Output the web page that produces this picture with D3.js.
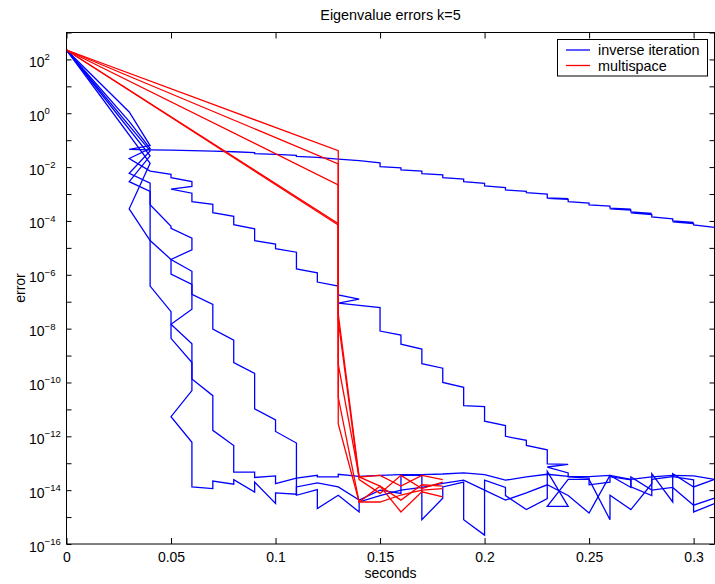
<!DOCTYPE html>
<html>
<head>
<meta charset="utf-8">
<script src="https://cdn.jsdelivr.net/npm/d3@7"></script>
<style>
  body { margin: 0; background: #fff; }
  text { font-family: "Liberation Sans", Arial, Helvetica, sans-serif; fill: #000; }
</style>
</head>
<body>
<svg id="chart" width="715" height="584"></svg>
<script>
// Each series: [seconds, log10(error)] pairs, in iteration order.
// Timer resolution is 0.01 s, so several iterations can share one time stamp.

// inverse iteration, one trace per eigenvalue
const invSlow = [[0,2.35],[0.03,0.05],[0.04,-1.2],[0.03,-1.34],[0.04,-1.36],[0.05,-1.37],[0.06,-1.39],[0.07,-1.41],[0.08,-1.43],[0.09,-1.46],[0.09,-1.50],[0.10,-1.53],[0.11,-1.56],[0.11,-1.60],[0.12,-1.64],[0.13,-1.70],[0.14,-1.76],[0.15,-1.84],[0.15,-1.98],[0.16,-2.03],[0.16,-2.10],[0.17,-2.15],[0.17,-2.24],[0.18,-2.29],[0.18,-2.39],[0.19,-2.45],[0.19,-2.54],[0.20,-2.60],[0.20,-2.70],[0.21,-2.76],[0.21,-2.85],[0.22,-2.90],[0.22,-2.95],[0.23,-3.00],[0.23,-3.14],[0.24,-3.17],[0.23,-3.16],[0.24,-3.20],[0.24,-3.28],[0.25,-3.34],[0.25,-3.40],[0.26,-3.45],[0.26,-3.52],[0.27,-3.56],[0.26,-3.55],[0.27,-3.60],[0.27,-3.66],[0.28,-3.72],[0.27,-3.70],[0.28,-3.76],[0.28,-3.85],[0.29,-3.92],[0.29,-4.00],[0.30,-4.05],[0.29,-4.03],[0.30,-4.10],[0.30,-4.15],[0.31,-4.24]];

const invMid = [[0,2.35],[0.03,-0.3],[0.04,-1.31],[0.03,-1.68],[0.04,-2.15],[0.05,-2.27],[0.05,-2.39],[0.06,-2.54],[0.06,-2.72],[0.05,-2.82],[0.06,-2.97],[0.06,-3.28],[0.07,-3.38],[0.07,-3.69],[0.08,-3.83],[0.08,-4.14],[0.09,-4.29],[0.09,-4.73],[0.10,-4.86],[0.10,-5.03],[0.11,-5.16],[0.11,-5.78],[0.12,-5.93],[0.12,-6.27],[0.13,-6.42],[0.13,-6.75],[0.14,-6.90],[0.13,-7.05],[0.15,-7.22],[0.15,-8.09],[0.16,-8.24],[0.16,-8.58],[0.17,-8.76],[0.17,-9.30],[0.18,-9.47],[0.18,-10.0],[0.19,-10.18],[0.19,-10.86],[0.20,-10.90],[0.20,-11.44],[0.21,-11.60],[0.21,-12.0],[0.22,-12.15],[0.22,-12.34],[0.23,-12.50],[0.23,-13.02],[0.24,-13.04],[0.23,-13.14],[0.24,-13.36],[0.24,-13.51],[0.25,-13.55],[0.25,-13.8],[0.26,-13.7],[0.26,-13.5],[0.27,-13.62],[0.27,-13.88],[0.28,-14.2],[0.28,-13.6],[0.29,-13.5],[0.30,-13.62],[0.30,-14.81],[0.31,-14.5]];

const invFast1 = [[0,2.35],[0.04,-1.40],[0.03,-2.23],[0.04,-2.6],[0.04,-3.40],[0.05,-4.20],[0.05,-4.27],[0.06,-4.64],[0.06,-5.07],[0.05,-5.43],[0.06,-5.87],[0.06,-7.28],[0.05,-7.84],[0.06,-8.56],[0.06,-10.30],[0.05,-11.27],[0.06,-12.22],[0.06,-13.88],[0.07,-13.94],[0.07,-13.66],[0.08,-13.78],[0.08,-13.61],[0.09,-14.07],[0.09,-13.70],[0.10,-14.49],[0.10,-14.10],[0.11,-14.15],[0.11,-13.88],[0.12,-13.73],[0.13,-13.88],[0.14,-14.37],[0.15,-14.0],[0.16,-14.12],[0.16,-13.45],[0.17,-13.45],[0.17,-15.1],[0.18,-14.3],[0.18,-13.88],[0.19,-13.7],[0.19,-15.1],[0.20,-15.67],[0.20,-13.63],[0.21,-13.9],[0.21,-14.2],[0.22,-14.72],[0.23,-14.31],[0.23,-13.3],[0.24,-14.6],[0.23,-14.6],[0.24,-13.6],[0.25,-13.6],[0.26,-15.1],[0.26,-14.19],[0.27,-14.72],[0.28,-13.76],[0.28,-13.39],[0.29,-14.44],[0.29,-13.39],[0.30,-13.88],[0.31,-13.6]];

const invFast2 = [[0,2.35],[0.04,-1.58],[0.03,-2.54],[0.04,-2.9],[0.04,-6.42],[0.05,-7.37],[0.05,-8.36],[0.06,-9.26],[0.06,-9.87],[0.07,-10.49],[0.07,-11.78],[0.08,-12.34],[0.08,-13.33],[0.09,-13.33],[0.09,-13.53],[0.10,-13.47],[0.10,-13.76],[0.11,-13.55],[0.12,-13.45],[0.12,-13.51],[0.13,-13.51],[0.13,-13.41],[0.14,-13.49],[0.15,-13.45],[0.16,-13.42],[0.17,-13.42],[0.18,-13.40],[0.19,-13.36],[0.20,-13.42],[0.21,-13.63],[0.22,-13.51],[0.23,-13.41],[0.24,-13.49],[0.25,-13.50],[0.26,-13.45],[0.27,-13.60],[0.28,-13.51],[0.29,-13.45],[0.30,-13.47],[0.31,-13.60]];

const invFast3 = [[0,2.35],[0.04,-1.86],[0.03,-3.55],[0.04,-4.73],[0.05,-5.43],[0.05,-5.97],[0.06,-6.36],[0.06,-6.73],[0.07,-7.10],[0.07,-8.02],[0.08,-8.43],[0.08,-9.26],[0.09,-9.66],[0.09,-10.98],[0.10,-11.39],[0.10,-11.82],[0.11,-12.25],[0.11,-14.19],[0.12,-13.98],[0.12,-14.68],[0.13,-14.19],[0.14,-14.81],[0.14,-14.44],[0.15,-14.2],[0.16,-14.0],[0.17,-13.9],[0.18,-13.75],[0.19,-13.63],[0.20,-14.0],[0.21,-14.37],[0.22,-14.1],[0.23,-13.8],[0.24,-14.2],[0.25,-14.85],[0.26,-13.45],[0.27,-13.9],[0.27,-13.51],[0.28,-14.0],[0.29,-13.9],[0.30,-14.56],[0.31,-14.3]];

// multispace, one trace per eigenvalue
const multi1 = [[0,2.35],[0.13,-1.39],[0.13,-7.45],[0.14,-13.51],[0.15,-13.45],[0.16,-13.85],[0.17,-13.45],[0.18,-13.61]];
const multi2 = [[0,2.35],[0.13,-1.88],[0.13,-7.70],[0.14,-13.61],[0.15,-14.12],[0.16,-13.45],[0.17,-13.94],[0.18,-13.70]];
const multi3 = [[0,2.35],[0.13,-2.66],[0.13,-9.32],[0.14,-13.51],[0.15,-13.85],[0.16,-14.37],[0.17,-13.80],[0.18,-13.85]];
const multi4 = [[0,2.35],[0.13,-4.10],[0.13,-10.55],[0.14,-14.44],[0.15,-13.85],[0.16,-14.81],[0.17,-14.06],[0.18,-14.25]];
const multi5 = [[0,2.35],[0.13,-4.15],[0.13,-11.54],[0.14,-14.44],[0.15,-14.44],[0.16,-14.18],[0.17,-14.00],[0.18,-13.94]];

const inverseSeries = [invSlow, invMid, invFast1, invFast2, invFast3];
const multiSeries = [multi1, multi2, multi3, multi4, multi5];

const xTicks = [0, 0.05, 0.1, 0.15, 0.2, 0.25, 0.3];
const xTickLabels = ["0", "0.05", "0.1", "0.15", "0.2", "0.25", "0.3"];
const yTickExponents = [-16, -15, -14, -13, -12, -11, -10, -9, -8, -7, -6, -5, -4, -3, -2, -1, 0, 1, 2, 3];
const yLabelExponents = [-16, -14, -12, -10, -8, -6, -4, -2, 0, 2];
const legendLabels = ["inverse iteration", "multispace"];
const seriesColors = ["#0000ff", "#ff0000"];

const chartTitle = "Eigenvalue errors k=5";
const xTitle = "seconds";
const yTitle = "error";

// ---- layout ----
const svg = d3.select("#chart");
const axLeft = 66.5, axRight = 714.5, axTop = 32.5, axBottom = 544;

const x = d3.scaleLinear().domain([0, 0.31]).range([axLeft, axRight]);
const y = d3.scaleLog().domain([1e-16, 1e3]).range([axBottom, axTop]);

const line = d3.line()
  .x(d => x(d[0]))
  .y(d => y(Math.pow(10, d[1])));

svg.append("defs").append("clipPath").attr("id", "plotClip")
  .append("rect").attr("x", axLeft).attr("y", axTop)
  .attr("width", axRight - axLeft).attr("height", axBottom - axTop);

const plotArea = svg.append("g").attr("clip-path", "url(#plotClip)");

plotArea.selectAll("path.inv").data(inverseSeries).join("path")
  .attr("class", "inv")
  .attr("d", line)
  .attr("fill", "none")
  .attr("stroke", seriesColors[0])
  .attr("stroke-width", 1.3)
  .attr("stroke-linejoin", "miter");

plotArea.selectAll("path.multi").data(multiSeries).join("path")
  .attr("class", "multi")
  .attr("d", line)
  .attr("fill", "none")
  .attr("stroke", seriesColors[1])
  .attr("stroke-width", 1.3)
  .attr("stroke-linejoin", "miter");

// ---- axes (ticks point inward) ----
const yTickVals = yTickExponents.map(e => Math.pow(10, e));

function styleAxis(g) {
  g.select(".domain").remove();
  g.selectAll(".tick line").attr("stroke", "#000").attr("stroke-width", 1);
}

svg.append("g").attr("transform", `translate(0,${axBottom})`)
  .call(d3.axisBottom(x).tickValues(xTicks).tickSizeInner(-6).tickSizeOuter(0)
    .tickPadding(8).tickFormat((d, i) => xTickLabels[i]))
  .call(styleAxis)
  .call(g => g.selectAll(".tick text")
    .attr("font-size", 14).attr("font-family", "Liberation Sans, Arial, sans-serif").attr("fill", "#000"));

svg.append("g").attr("transform", `translate(0,${axTop})`)
  .call(d3.axisTop(x).tickValues(xTicks).tickSizeInner(-6).tickSizeOuter(0).tickFormat(""))
  .call(styleAxis);

svg.append("g").attr("transform", `translate(${axLeft},0)`)
  .call(d3.axisLeft(y).tickValues(yTickVals).tickSizeInner(-5).tickSizeOuter(0).tickFormat(""))
  .call(styleAxis);

svg.append("g").attr("transform", `translate(${axRight},0)`)
  .call(d3.axisRight(y).tickValues(yTickVals).tickSizeInner(-5).tickSizeOuter(0).tickFormat(""))
  .call(styleAxis);

// y tick labels as 10 with superscript exponent
const yLab = svg.append("g").selectAll("text").data(yLabelExponents).join("text")
  .attr("x", 29)
  .attr("y", e => y(Math.pow(10, e)) + 7.5)
  .attr("font-size", 14);
yLab.append("tspan").text("10");
yLab.append("tspan")
  .attr("font-size", 9.5)
  .attr("dy", -6.5)
  .text(e => (e < 0 ? "\u2212" + Math.abs(e) : String(e)));

// frame
svg.append("rect")
  .attr("x", axLeft).attr("y", axTop)
  .attr("width", axRight - axLeft).attr("height", axBottom - axTop)
  .attr("fill", "none").attr("stroke", "#000").attr("stroke-width", 1);

// titles
svg.append("text").attr("x", (axLeft + axRight) / 2).attr("y", 20)
  .attr("text-anchor", "middle").attr("font-size", 14.4).text(chartTitle);

svg.append("text").attr("x", (axLeft + axRight) / 2).attr("y", 578)
  .attr("text-anchor", "middle").attr("font-size", 14).text(xTitle);

svg.append("text")
  .attr("transform", `translate(25,288) rotate(-90)`)
  .attr("text-anchor", "middle").attr("font-size", 14).text(yTitle);

// legend
const legend = svg.append("g");
legend.append("rect")
  .attr("x", 557.5).attr("y", 39.5).attr("width", 150).attr("height", 36.5)
  .attr("fill", "#fff").attr("stroke", "#000").attr("stroke-width", 1);
legendLabels.forEach((lab, i) => {
  const ly = 50 + i * 15.5;
  legend.append("line")
    .attr("x1", 566).attr("x2", 590).attr("y1", ly).attr("y2", ly)
    .attr("stroke", seriesColors[i]).attr("stroke-width", 1.3);
  legend.append("text")
    .attr("x", 598).attr("y", ly + 5)
    .attr("font-size", 14.4).text(lab);
});
</script>
</body>
</html>
